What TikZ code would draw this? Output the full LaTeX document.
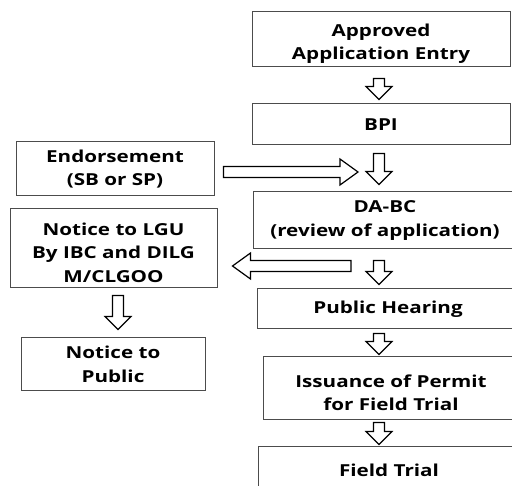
\documentclass[tikz,border=0pt]{standalone}
\usepackage{fontspec}
\setsansfont{Open Sans}[FakeStretch=1.25]
\usetikzlibrary{calc}
\newcommand{\lowerline}{\rule{0pt}{21pt}}

\begin{document}
\begin{tikzpicture}[x=1pt, y=-1pt,
		box/.style={draw=black!70, line width=1pt, align=center, inner sep=0pt,
			font=\sffamily\bfseries\fontsize{16.5}{23.5}\selectfont},
		% hollow block arrow between two points
		blockarr/.style={draw=black, fill=white, line width=1.2pt, line join=miter,
			to path={
				($(\tikztotarget)!#1!(\tikztostart)$) coordinate (arrbase)
				($(\tikztostart)!5.5pt!90:(\tikztotarget)$)
				-- ($(arrbase)!5.5pt!90:(\tikztotarget)$)
				-- ($(arrbase)!13pt!90:(\tikztotarget)$)
				-- (\tikztotarget)
				-- ($(arrbase)!13pt!-90:(\tikztotarget)$)
				-- ($(arrbase)!5.5pt!-90:(\tikztotarget)$)
				-- ($(\tikztostart)!5.5pt!-90:(\tikztotarget)$) -- cycle}},
		blockarr/.default=13pt]
		% Bildbereich
		\useasboundingbox (0,0) rectangle (512,486);
		\clip (0,0) rectangle (512,486);
		% Kaesten rechts
		\node[box, minimum width=258, minimum height=55] (app) at (381,39.5) {\lowerline Approved\\Application Entry};
		\node[box, minimum width=258, minimum height=41] (bpi) at (381,124.5) {BPI};
		\node[box, minimum width=264, minimum height=57] (dabc) at (385,220.5) {DA-BC\\(review of application)};
		\node[box, minimum width=262, minimum height=40] (hear) at (388,309) {Public Hearing};
		\node[box, minimum width=256, minimum height=63] (perm) at (391,388.5) {\lowerline Issuance of Permit\\for Field Trial};
		\node[box, minimum width=262, minimum height=46] (trial) at (389,470) {Field Trial};
		% Kaesten links
		\node[box, minimum width=198, minimum height=54] (endo) at (115,169) {Endorsement\\(SB or SP)};
		\node[box, minimum width=207, minimum height=79] (lgu) at (113.5,248.5) {\lowerline Notice to LGU\\By IBC and DILG\\M/CLGOO};
		\node[box, minimum width=184, minimum height=53] (pub) at (113,364.5) {Notice to\\Public};
		% freie Pfeilenden
		\coordinate (endoin) at (358,172);
		\coordinate (lguout) at (351,266);
		% Pfeile nach unten
		\draw[blockarr] ([xshift=-2pt,yshift=-11pt]app.south) to ([xshift=-2pt,yshift=4pt]bpi.north);
		\draw[blockarr] ([xshift=-2pt,yshift=-8pt]bpi.south) to ([xshift=-6pt,yshift=7pt]dabc.north);
		\draw[blockarr] ([xshift=-6pt,yshift=-11pt]dabc.south) to ([xshift=-9pt,yshift=4pt]hear.north);
		\draw[blockarr] ([xshift=-9pt,yshift=-4pt]hear.south) to ([xshift=-12pt,yshift=2pt]perm.north);
		\draw[blockarr] ([xshift=-12pt,yshift=-2pt]perm.south) to ([xshift=-10pt,yshift=2pt]trial.north);
		\draw[blockarr] ([xshift=4.5pt,yshift=-7pt]lgu.south) to ([xshift=5pt,yshift=8pt]pub.north);
		% Pfeile quer
		\draw[blockarr=18pt] ([xshift=9pt,yshift=-3pt]endo.east) to (endoin);
		\draw[blockarr=18pt] (lguout) to ([xshift=15pt,yshift=-17.5pt]lgu.east);
	\end{tikzpicture}
\end{document}
